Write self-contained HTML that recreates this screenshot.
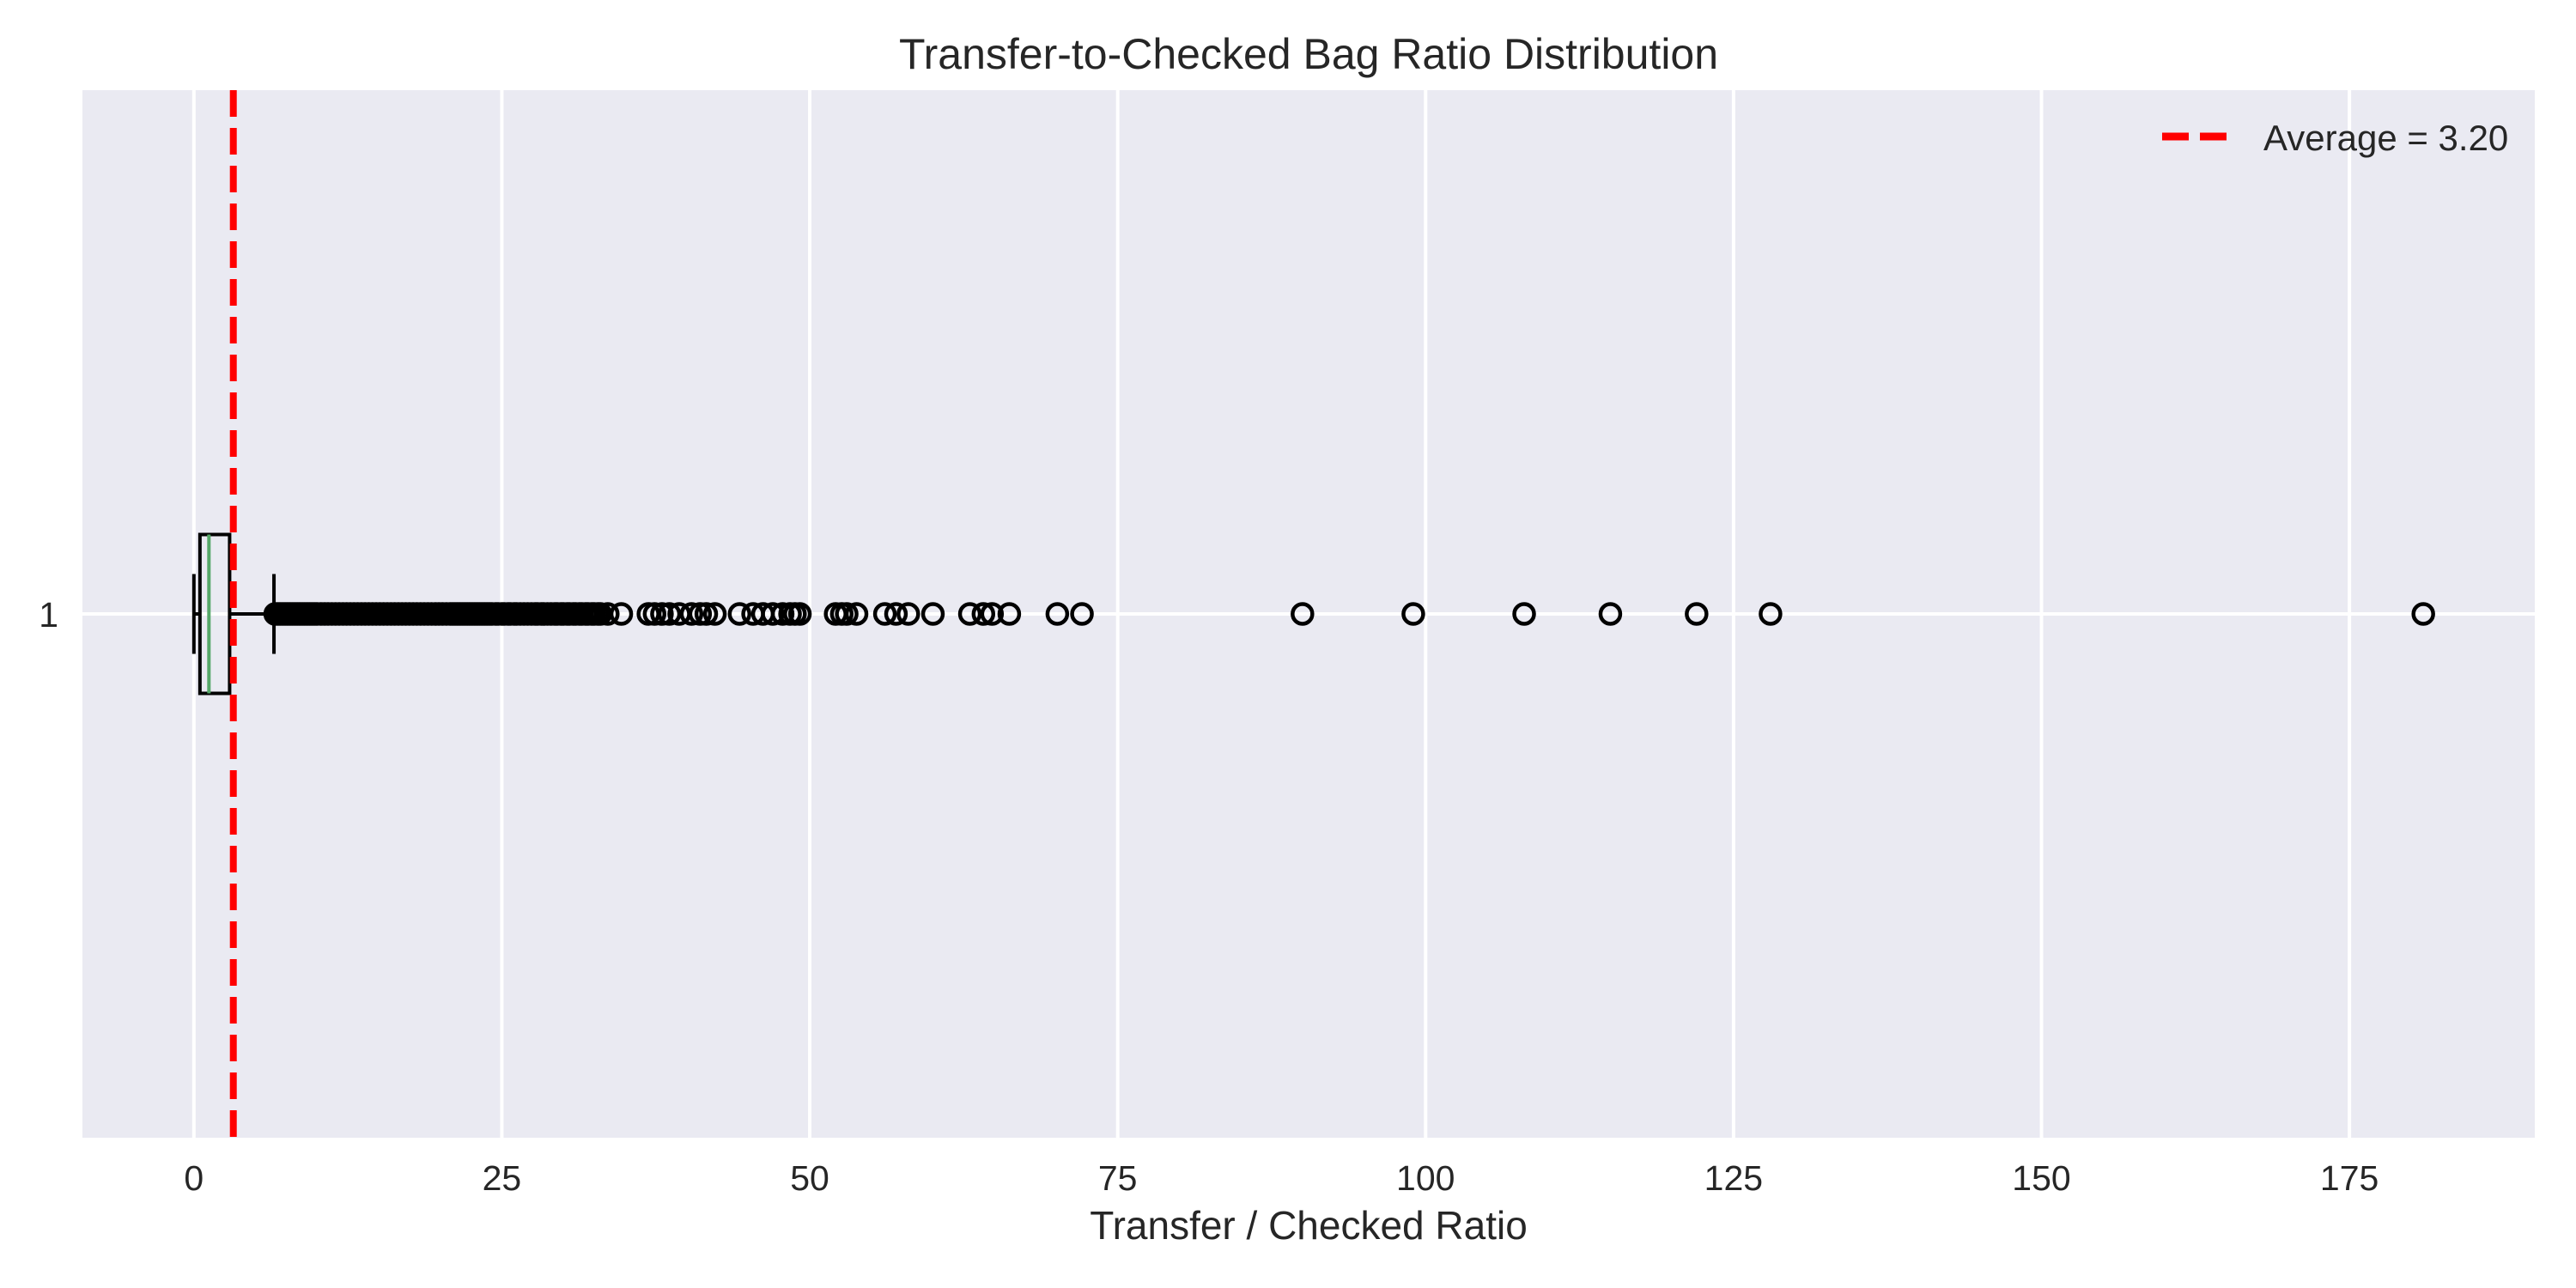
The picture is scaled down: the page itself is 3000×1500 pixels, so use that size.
<!DOCTYPE html>
<html><head><meta charset="utf-8"><style>
html,body{margin:0;padding:0;background:#fff;}
svg{display:block;font-family:"Liberation Sans",Arial,sans-serif;}
</style></head><body>
<svg id="chart" width="3000" height="1500" viewBox="0 0 3000 1500" xmlns="http://www.w3.org/2000/svg">
<rect x="0" y="0" width="3000" height="1500" fill="#ffffff"/>
<rect x="96" y="105" width="2856" height="1220" fill="#eaeaf2"/>
<g id="grid"></g>
<g id="ticks"></g>
<g id="box"></g>
<g id="outliers"></g>
<g id="avg"></g>
<text x="1524" y="80" text-anchor="middle" font-size="50" fill="#262626">Transfer-to-Checked Bag Ratio Distribution</text>
<text x="1524" y="1443" text-anchor="middle" font-size="46" fill="#262626">Transfer / Checked Ratio</text>
<g>
<line x1="2518" y1="159" x2="2593" y2="159" stroke="#ff0000" stroke-width="9" stroke-dasharray="31,13"/>
<text x="2636" y="175" font-size="42" fill="#262626">Average = 3.20</text>
</g>
</svg>
<script>
const xTicks = [0,25,50,75,100,125,150,175];
const xTickLabels = ["0","25","50","75","100","125","150","175"];
const yCategories = ["1"];
const boxStats = [0, 0.49, 1.22, 2.9, 6.5]; // whislo, q1, median, q3, whishi
const averageValue = [3.2];
const outlierValues = [
6.6,6.8,7.0,7.2,7.4,7.6,7.8,8.0,8.2,8.4,8.6,8.8,9.0,9.2,9.4,9.6,9.8,10.0,10.3,10.6,10.9,11.2,11.5,11.8,12.1,12.4,12.7,13.0,13.3,13.6,13.9,14.2,14.5,14.8,15.1,15.4,15.7,16.0,16.3,16.6,16.9,17.2,17.5,17.8,18.1,18.4,18.7,19.0,19.3,19.6,19.9,20.2,20.5,
20.8,21.0,21.2,21.4,21.6,21.8,22.0,22.2,22.4,22.6,22.8,23.0,23.2,23.4,23.6,23.8,24.0,24.2,24.5,24.7,25.0,25.2,25.5,25.7,26.0,26.2,26.5,26.8,27.1,27.4,27.7,27.9,28.2,28.4,28.7,29.0,29.3,29.5,29.8,30.0,30.3,30.5,30.8,31.0,31.3,31.5,31.8,32.0,32.3,32.5,32.8,33.0,
33.6,34.7,36.9,37.4,38.0,38.6,39.4,40.4,41.1,41.6,42.3,44.3,45.4,46.2,47.0,47.8,48.4,48.8,49.2,
52.1,52.6,53.0,53.8,56.1,57.0,58.0,60.0,63.0,64.1,64.8,66.2,70.1,72.1,
90,99,108,115,122,128,181];

const NS="http://www.w3.org/2000/svg";
const X0=96,X1=2952,Y0=105,Y1=1325;
const xmin=-9.05,xmax=190.05;
function xs(v){return X0+(v-xmin)/(xmax-xmin)*(X1-X0);}
function ys(i){return (Y0+Y1)/2;}
const boxHalf=92.5, capHalf=46.5;
function mk(tag,attrs,parent){const e=document.createElementNS(NS,tag);for(const k in attrs)e.setAttribute(k,attrs[k]);parent.appendChild(e);return e;}
const grid=document.getElementById('grid'),ticks=document.getElementById('ticks');
xTicks.forEach((t,i)=>{
  const g=mk('line',{x1:xs(t),x2:xs(t),y1:Y0,y2:Y1,stroke:'#fff','stroke-width':4},grid);
  
  
  const tx=mk('text',{x:xs(t),y:1386,'text-anchor':'middle','font-size':41,fill:'#262626'},ticks);
  
  
  tx.textContent=xTickLabels[i];
});
yCategories.forEach((c,i)=>{
  const g=mk('line',{x1:X0,x2:X1,y1:ys(i),y2:ys(i),stroke:'#fff','stroke-width':4},grid);
  
  
  const tx=mk('text',{x:68,y:ys(i)+15,'text-anchor':'end','font-size':41,fill:'#262626'},ticks);
  
  
  tx.textContent=c;
});
const box=document.getElementById('box');
const cy=ys(0);
const [wlo,q1,med,q3,whi]=boxStats;
let e;
e=mk('line',{x1:xs(wlo),x2:xs(q1),y1:cy,y2:cy,stroke:'#000','stroke-width':4},box);


e=mk('line',{x1:xs(q3),x2:xs(whi),y1:cy,y2:cy,stroke:'#000','stroke-width':4},box);


e=mk('line',{x1:xs(wlo),x2:xs(wlo),y1:cy-capHalf,y2:cy+capHalf,stroke:'#000','stroke-width':4},box);


e=mk('line',{x1:xs(whi),x2:xs(whi),y1:cy-capHalf,y2:cy+capHalf,stroke:'#000','stroke-width':4},box);


e=mk('rect',{x:xs(q1),y:cy-boxHalf,width:xs(q3)-xs(q1),height:2*boxHalf,fill:'none',stroke:'#000','stroke-width':4},box);


e=mk('line',{x1:xs(med),x2:xs(med),y1:cy-boxHalf,y2:cy+boxHalf,stroke:'#55a868','stroke-width':4},box);


const og=document.getElementById('outliers');
outlierValues.forEach(v=>{
  const c=mk('circle',{cx:xs(v),cy:cy,r:11.5,fill:'none',stroke:'#000','stroke-width':4.5},og);
  
  
});
const ag=document.getElementById('avg');
const al=mk('line',{x1:xs(averageValue[0]),x2:xs(averageValue[0]),y1:Y0,y2:Y1,stroke:'#ff0000','stroke-width':8,'stroke-dasharray':'31,13'},ag);


</script>
</body></html>
